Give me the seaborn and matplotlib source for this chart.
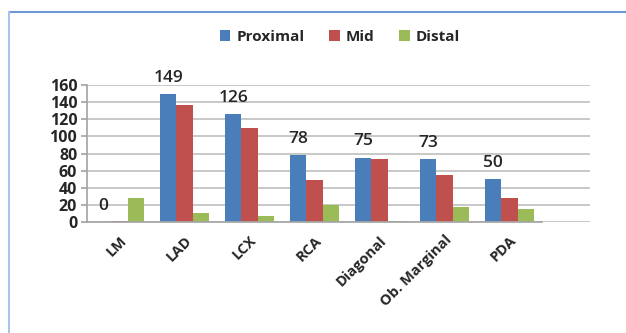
import matplotlib
matplotlib.use("Agg")
import matplotlib.pyplot as plt
import seaborn as sns
import pandas as pd
import numpy as np
from matplotlib.lines import Line2D

categories = ["LM", "LAD", "LCX", "RCA", "Diagonal", "Ob. Marginal", "PDA"]
series = ["Proximal", "Mid", "Distal"]
proximal = [0, 149, 126, 78, 75, 73, 50]
mid = [1, 137, 110, 49, 73, 55, 28]
distal = [28, 10, 7, 20, 1, 18, 15]
yticks = [0, 20, 40, 60, 80, 100, 120, 140, 160]
colors = ["#4A7EBB", "#C0504D", "#9BBB59"]

df = pd.DataFrame({
    "Category": categories * 3,
    "Series": [s for s in series for _ in categories],
    "Value": proximal + mid + distal,
})

sns.set_theme(style="white")
plt.rcParams["font.family"] = ["Open Sans", "DejaVu Sans"]

fig = plt.figure(figsize=(6.26, 3.33), dpi=100)
ax = fig.add_axes([87 / 626, (333 - 222) / 333, (590 - 87) / 626, (222 - 85) / 333])

sns.barplot(data=df, x="Category", y="Value", hue="Series", palette=colors,
            width=0.75, ax=ax, edgecolor="none", saturation=1)

ax.set_xlim(-0.5, 7.24)
ax.set_ylim(0, 160)
ax.set_yticks(yticks)
ax.set_yticklabels([str(t) for t in yticks], fontsize=11.5, fontweight="bold")
ax.yaxis.grid(True, color="#BFBFBF", linewidth=1.2)
ax.set_axisbelow(True)
ax.set_xlabel("")
ax.set_ylabel("")
ax.set_xticks(range(len(categories)))
ax.set_xticklabels(categories, rotation=45, ha="right", rotation_mode="anchor",
                   fontsize=10.5, fontweight="bold")
ax.set_xticks(np.arange(-0.5, len(categories), 1.0), minor=True)
ax.tick_params(axis="x", which="major", length=0, pad=8)
ax.tick_params(axis="x", which="minor", length=5, color="#A6A6A6", width=1)
ax.tick_params(axis="y", length=4, color="#A6A6A6", left=True, pad=3)
for s in ["top", "right"]:
    ax.spines[s].set_visible(False)
ax.spines["left"].set_color("#A6A6A6")
ax.spines["bottom"].set_color("#A6A6A6")
ax.spines["bottom"].set_bounds(-0.5, 6.5)

# data labels on proximal bars
prox_container = ax.containers[0]
labels = [str(v) for v in proximal]
ax.bar_label(prox_container, labels=labels, padding=6, fontsize=12.5, fontweight="semibold")

leg = ax.legend(loc="center", bbox_to_anchor=(340 / 626, 1 - 37 / 333),
                bbox_transform=fig.transFigure, ncol=3, frameon=False,
                prop={"weight": "bold", "size": 11}, handlelength=0.7,
                handleheight=0.7, columnspacing=1.6, handletextpad=0.4)

# frame lines of the chart area
fig.add_artist(Line2D([9 / 626, 1], [1 - 12 / 333, 1 - 12 / 333],
                      transform=fig.transFigure, color="#6F98D2", linewidth=1.5))
fig.add_artist(Line2D([9 / 626, 9 / 626], [0, 1 - 12 / 333],
                      transform=fig.transFigure, color="#A9C4E8", linewidth=1.5))

fig.savefig("out.png", dpi=100)
